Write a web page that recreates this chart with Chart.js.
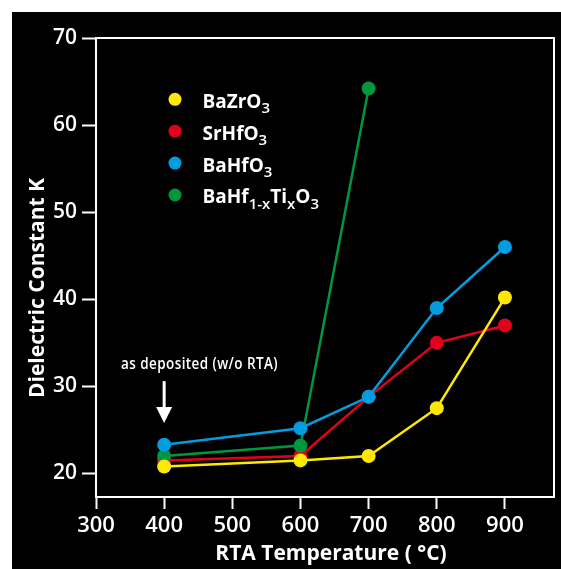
<!DOCTYPE html>
<html><head><meta charset="utf-8">
<script src="https://cdn.jsdelivr.net/npm/chart.js@4/dist/chart.umd.min.js"></script>
<style>html,body{margin:0;padding:0;background:#fff;overflow:hidden}#wrap{width:561px;height:569px}canvas{display:block}</style>
</head><body><div id="wrap"><canvas id="c" width="561" height="569"></canvas></div>
<script>
// RTA temperature (°C) and dielectric constant K of each film
const temperatures = [400, 600, 700, 800, 900];
const bazro3 = [20.8, 21.5, 22.0, 27.5, 40.2];
const srhfo3 = [21.5, 22.0, 28.8, 35.0, 37.0];
const bahfo3 = [23.3, 25.2, 28.8, 39.0, 46.0];
const bahftio3 = [22.0, 23.2, 64.2];
const xTicks = [300, 400, 500, 600, 700, 800, 900];
const yTicks = [20, 30, 40, 50, 60, 70];
// "_x" or "_{...}" marks a subscript
const seriesNames = ['BaZrO_3', 'SrHfO_3', 'BaHfO_3', 'BaHf_{1-x}Ti_xO_3'];
const seriesColors = ['#ffe900', '#e3001b', '#009ee0', '#009640'];
const seriesValues = [bazro3, srhfo3, bahfo3, bahftio3];
const drawOrder = [1, 3, 0, 2]; // higher value is painted first
const noteText = 'as deposited (w/o RTA)';
const xTitle = 'RTA Temperature ( °C)';
const yTitle = 'Dielectric Constant K';

const FONT = '"Open Sans", "DejaVu Sans", sans-serif';

function parseRich(s) {
  const parts = [];
  let i = 0, buf = '';
  while (i < s.length) {
    if (s[i] === '_') {
      if (buf) { parts.push({t: buf, sub: false}); buf = ''; }
      if (s[i + 1] === '{') {
        const j = s.indexOf('}', i);
        parts.push({t: s.slice(i + 2, j), sub: true});
        i = j + 1;
      } else {
        parts.push({t: s[i + 1], sub: true});
        i += 2;
      }
    } else { buf += s[i]; i++; }
  }
  if (buf) parts.push({t: buf, sub: false});
  return parts;
}

const decorations = {
  id: 'decorations',
  beforeDraw(chart) {
    const ctx = chart.ctx;
    ctx.save();
    ctx.fillStyle = '#ffffff';
    ctx.fillRect(0, 0, chart.width, chart.height);
    ctx.fillStyle = '#000000';
    ctx.fillRect(12, 12, chart.width - 12, chart.height - 12);
    ctx.restore();
  },
  afterDraw(chart) {
    const ctx = chart.ctx;
    const a = chart.chartArea;
    const xs = chart.scales.x, ys = chart.scales.y;
    ctx.save();
    // frame: top and right edges
    ctx.strokeStyle = '#ffffff';
    ctx.lineWidth = 2;
    ctx.beginPath();
    ctx.moveTo(a.left, a.top);
    ctx.lineTo(a.right, a.top);
    ctx.lineTo(a.right, a.bottom);
    ctx.stroke();

    // legend
    const lx = 175, ly0 = 99.3, dy = 31.9;
    chart.data.datasets.forEach((ds, k) => {
      const cy = ly0 + k * dy;
      ctx.fillStyle = ds.pointBackgroundColor;
      ctx.beginPath();
      ctx.arc(lx, cy, 6.5, 0, Math.PI * 2);
      ctx.fill();
      ctx.fillStyle = '#ffffff';
      ctx.textBaseline = 'alphabetic';
      ctx.textAlign = 'left';
      let x = 202.5;
      const base = cy + 8.4;
      for (const p of parseRich(ds.label)) {
        ctx.font = p.sub ? `600 15px ${FONT}` : `700 19px ${FONT}`;
        ctx.fillText(p.t, x, p.sub ? base + 5.6 : base);
        x += ctx.measureText(p.t).width;
      }
    });

    // note with arrow pointing at the as-deposited values
    const px = xs.getPixelForValue(400);
    ctx.fillStyle = '#ffffff';
    ctx.font = `600 16px ${FONT}`;
    ctx.letterSpacing = '0.5px';
    ctx.textAlign = 'left';
    ctx.textBaseline = 'alphabetic';
    ctx.fillText(noteText, 121, ys.getPixelForValue(32.0), 157);
    const yTop = ys.getPixelForValue(30.6), yTip = ys.getPixelForValue(25.8);
    ctx.fillRect(px - 1.5, yTop, 3, (yTip - yTop) - 14);
    ctx.beginPath();
    ctx.moveTo(px - 8, yTip - 16);
    ctx.lineTo(px + 8, yTip - 16);
    ctx.lineTo(px, yTip);
    ctx.closePath();
    ctx.fill();

    // axis titles
    ctx.letterSpacing = '0px';
    ctx.font = `700 21px ${FONT}`;
    ctx.textAlign = 'center';
    ctx.fillText(xTitle, 331, 560);
    ctx.save();
    ctx.translate(43.5, 288);
    ctx.rotate(-Math.PI / 2);
    ctx.font = `700 21px ${FONT}`;
    ctx.fillText(yTitle, 0, 0);
    ctx.restore();
    ctx.restore();
  }
};

const datasets = seriesNames.map((name, k) => ({
  label: name,
  data: seriesValues[k].map((v, i) => ({x: temperatures[i], y: v})),
  borderColor: seriesColors[k],
  backgroundColor: seriesColors[k],
  pointBackgroundColor: seriesColors[k],
  pointBorderWidth: 0,
  pointRadius: 7,
  pointHoverRadius: 7,
  borderWidth: 2.5,
  tension: 0,
  fill: false,
  clip: false,
  order: drawOrder[k]
}));

new Chart(document.getElementById('c'), {
  type: 'line',
  data: {datasets},
  plugins: [decorations],
  options: {
    responsive: false,
    animation: false,
    devicePixelRatio: 1,
    layout: {padding: {top: 38, right: 1, left: 0, bottom: 0}},
    plugins: {legend: {display: false}, tooltip: {enabled: false}},
    scales: {
      x: {
        type: 'linear',
        min: 300,
        max: 972,
        afterBuildTicks: s => { s.ticks = xTicks.map(v => ({value: v})); },
        afterFit: s => { s.height = 72; s.paddingLeft = 0; s.paddingRight = 0; },
        ticks: {color: '#ffffff', font: {family: FONT, size: 22, weight: '600'}, padding: 4, maxRotation: 0, autoSkip: false},
        grid: {drawOnChartArea: false, tickLength: 12, tickWidth: 2, tickColor: '#ffffff', color: '#ffffff'},
        border: {color: '#ffffff', width: 2}
      },
      y: {
        type: 'linear',
        min: 17.3,
        max: 70,
        afterBuildTicks: s => { s.ticks = yTicks.map(v => ({value: v})); },
        afterFit: s => { s.width = 96; s.paddingTop = 0; s.paddingBottom = 0; },
        ticks: {color: '#ffffff', font: {family: FONT, size: 21, weight: '600'}, padding: 5},
        grid: {drawOnChartArea: false, tickLength: 14, tickWidth: 2, tickColor: '#ffffff', color: '#ffffff'},
        border: {color: '#ffffff', width: 2}
      }
    }
  }
});
</script>
</body></html>
